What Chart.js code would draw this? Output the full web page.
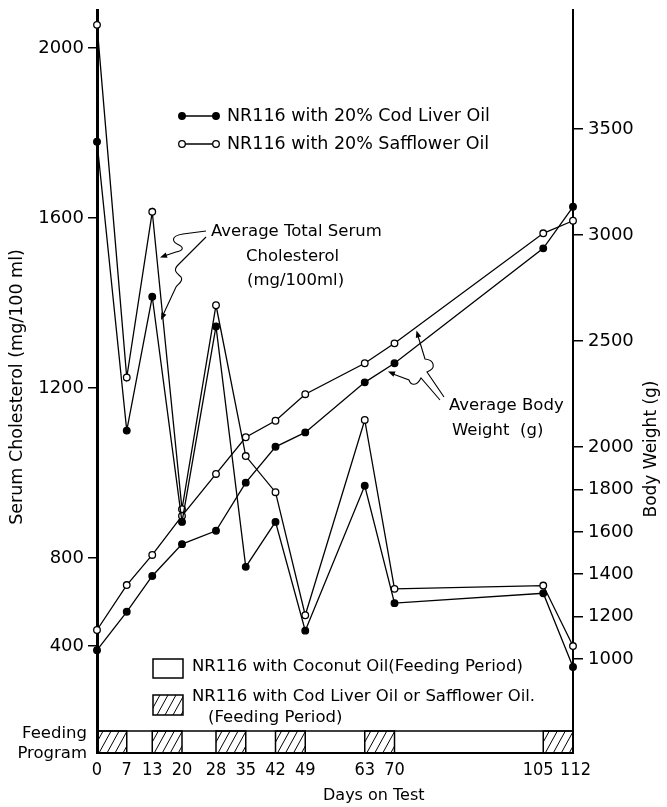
<!DOCTYPE html>
<html>
<head>
<meta charset="utf-8">
<script src="https://cdn.jsdelivr.net/npm/chart.js@4.4.1/dist/chart.umd.min.js"></script>
<style>
  html, body { margin: 0; padding: 0; background: #fff; }
  canvas { display: block; }
</style>
</head>
<body>
<canvas id="chart" width="667" height="807"></canvas>
<script>
// days on test
var days = [0, 7, 13, 20, 28, 35, 42, 49, 63, 70, 105, 112];
// average total serum cholesterol (mg/100ml)
var cholCodLiver = [1780, 1100, 1415, 885, 1345, 760, 885, 470, 970, 595, 640, 305];
var cholSafflower = [2055, 1225, 1615, 915, 1395, 1040, 955, 540, 1125, 660, 675, 400];
// average body weight (g)
var bwCodLiver = [1042, 1223, 1392, 1542, 1605, 1832, 2001, 2069, 2305, 2395, 2937, 3133];
var bwSafflower = [1137, 1349, 1491, 1675, 1873, 2046, 2124, 2249, 2395, 2489, 3008, 3067];
// tick labels
var cholTicks = [400, 800, 1200, 1600, 2000];
var bwTicks = [1000, 1200, 1400, 1600, 1800, 2000, 2500, 3000, 3500];
// feeding periods with cod liver oil / safflower oil (rest: coconut oil)
var hatchedPeriods = [[0, 7], [13, 20], [28, 35], [42, 49], [63, 70], [105, 112]];

var FONT = '"DejaVu Sans", sans-serif';
var FONT_NARROW = '"DejaVu Sans Condensed", "DejaVu Sans", sans-serif';

// 左轴在800以下被压缩（原图如此）
var BREAK = 800, SQUEEZE = 0.518;
class SqueezedScale extends Chart.LinearScale {
  squeeze(v) { return v >= BREAK ? v : BREAK - (BREAK - v) * SQUEEZE; }
  getPixelForValue(v) {
    if (v === null || isNaN(v)) return NaN;
    var a = this.squeeze(this.min), b = this.squeeze(this.max);
    return this.getPixelForDecimal((this.squeeze(v) - a) / (b - a));
  }
  getValueForPixel(p) {
    var a = this.squeeze(this.min), b = this.squeeze(this.max);
    var u = a + this.getDecimalForPixel(p) * (b - a);
    return u >= BREAK ? u : BREAK - (BREAK - u) / SQUEEZE;
  }
}
SqueezedScale.id = 'squeezed';
SqueezedScale.defaults = Chart.LinearScale.defaults;
Chart.register(SqueezedScale);

function pairs(xs, ys) {
  return xs.map(function (x, i) { return { x: x, y: ys[i] }; });
}

function txt(ctx, s, x, y, size, align) {
  ctx.font = size + 'px ' + FONT;
  ctx.textAlign = align || 'left';
  ctx.textBaseline = 'middle';
  ctx.fillText(s, x, y);
}

function arrow(ctx, fx, fy, tx, ty) {
  var a = Math.atan2(ty - fy, tx - fx), L = 7, W = 2.8;
  ctx.beginPath();
  ctx.moveTo(tx, ty);
  ctx.lineTo(tx - L * Math.cos(a) + W * Math.sin(a), ty - L * Math.sin(a) - W * Math.cos(a));
  ctx.lineTo(tx - L * Math.cos(a) - W * Math.sin(a), ty - L * Math.sin(a) + W * Math.cos(a));
  ctx.closePath();
  ctx.fill();
}

function hatch(ctx, x0, y0, w, h) {
  ctx.save();
  ctx.beginPath();
  ctx.rect(x0, y0, w, h);
  ctx.clip();
  ctx.beginPath();
  for (var s = x0 - h; s < x0 + w + h; s += 8) {
    ctx.moveTo(s, y0 + h);
    ctx.lineTo(s + h * 0.55, y0);
  }
  ctx.lineWidth = 1;
  ctx.stroke();
  ctx.restore();
  ctx.lineWidth = 1.5;
  ctx.strokeRect(x0, y0, w, h);
}

function dot(ctx, x, y, filled) {
  ctx.beginPath();
  ctx.arc(x, y, 3.3, 0, Math.PI * 2);
  ctx.fillStyle = filled ? '#000' : '#fff';
  ctx.fill();
  ctx.lineWidth = 1.3;
  ctx.stroke();
  ctx.fillStyle = '#000';
}

var annotations = {
  id: 'annotations',
  afterDraw: function (chart) {
    var ctx = chart.ctx, x = chart.scales.x, area = chart.chartArea;
    ctx.save();
    ctx.strokeStyle = '#000';
    ctx.fillStyle = '#000';

    // feeding program band
    var bandTop = area.bottom - 22, bandH = 22;
    hatchedPeriods.forEach(function (p) {
      var x0 = x.getPixelForValue(p[0]), x1 = x.getPixelForValue(p[1]);
      hatch(ctx, x0, bandTop, x1 - x0, bandH);
    });
    ctx.lineWidth = 1.5;
    ctx.beginPath();
    ctx.moveTo(area.left, bandTop);
    ctx.lineTo(area.right, bandTop);
    ctx.stroke();
    txt(ctx, 'Feeding', 87, 734, 16.5, 'right');
    txt(ctx, 'Program', 87, 754, 16.5, 'right');

    // series key
    ctx.lineWidth = 1.3;
    ctx.beginPath(); ctx.moveTo(182, 116); ctx.lineTo(216, 116); ctx.stroke();
    dot(ctx, 182, 116, true); dot(ctx, 216, 116, true);
    ctx.beginPath(); ctx.moveTo(182, 144); ctx.lineTo(216, 144); ctx.stroke();
    dot(ctx, 182, 144, false); dot(ctx, 216, 144, false);
    txt(ctx, 'NR116 with 20% Cod Liver Oil', 227, 116, 17.5);
    txt(ctx, 'NR116 with 20% Safflower Oil', 227, 144, 17.5);

    // feeding key
    ctx.lineWidth = 1.5;
    ctx.strokeRect(153, 659, 30, 19);
    hatch(ctx, 153, 695, 30, 20);
    txt(ctx, 'NR116 with Coconut Oil(Feeding Period)', 192, 667, 16.5);
    txt(ctx, 'NR116 with Cod Liver Oil or Safflower Oil.', 192, 697, 16.5);
    txt(ctx, '(Feeding Period)', 208, 718, 16.5);

    // cholesterol label and leaders
    txt(ctx, 'Average Total Serum', 211, 232, 16.5);
    txt(ctx, 'Cholesterol', 246, 257, 16.5);
    txt(ctx, '(mg/100ml)', 247, 281, 16.5);
    ctx.lineWidth = 1.1;
    ctx.beginPath();
    ctx.moveTo(206, 231); ctx.lineTo(183, 234);
    ctx.bezierCurveTo(170, 236, 172, 242, 179, 245);
    ctx.bezierCurveTo(185, 248, 182, 251, 176, 252);
    ctx.lineTo(164, 256);
    ctx.stroke();
    arrow(ctx, 176, 252, 160, 257.5);
    ctx.beginPath();
    ctx.moveTo(206, 237); ctx.lineTo(178, 265);
    ctx.bezierCurveTo(172, 271, 178, 274, 181, 277);
    ctx.bezierCurveTo(184, 281, 178, 284, 176, 287);
    ctx.lineTo(163, 315);
    ctx.stroke();
    arrow(ctx, 176, 287, 161, 320);

    // body weight label and leaders
    txt(ctx, 'Average Body', 449, 406, 16.5);
    txt(ctx, 'Weight  (g)', 452, 431, 16.5);
    ctx.beginPath();
    ctx.moveTo(444, 397); ctx.lineTo(427, 372);
    ctx.bezierCurveTo(437, 368, 434, 360, 425, 359);
    ctx.lineTo(418, 336);
    ctx.stroke();
    arrow(ctx, 425, 359, 416.5, 330.5);
    ctx.beginPath();
    ctx.moveTo(440, 400); ctx.lineTo(421, 378);
    ctx.bezierCurveTo(417, 386, 411, 386, 409, 380);
    ctx.lineTo(393, 374);
    ctx.stroke();
    arrow(ctx, 409, 380, 388, 371.5);

    // axis titles
    txt(ctx, 'Days on Test', 323, 796, 16);
    ctx.save();
    ctx.translate(17, 387); ctx.rotate(-Math.PI / 2);
    txt(ctx, 'Serum Cholesterol (mg/100 ml)', 0, 0, 17.5, 'center');
    ctx.restore();
    ctx.save();
    ctx.translate(652, 449); ctx.rotate(-Math.PI / 2);
    txt(ctx, 'Body Weight (g)', 0, 0, 17, 'center');
    ctx.restore();
    ctx.restore();
  }
};

function lineSet(label, values, axis, filled) {
  return {
    label: label,
    data: pairs(days, values),
    yAxisID: axis,
    borderColor: '#000',
    borderWidth: 1.3,
    tension: 0,
    fill: false,
    clip: false,
    pointRadius: 3.3,
    pointBorderWidth: 1.3,
    pointBorderColor: '#000',
    pointBackgroundColor: filled ? '#000' : '#fff'
  };
}

// 105 和 112 的标签在原图中向两侧错开
function dayLabel(v) {
  if (v === 105) return '105  ';
  if (v === 112) return ' 112';
  return String(v);
}

var ctx = document.getElementById('chart').getContext('2d');
var chart = new Chart(ctx, {
  type: 'line',
  data: {
    datasets: [
      lineSet('Cholesterol, 20% Cod Liver Oil', cholCodLiver, 'yChol', true),
      lineSet('Cholesterol, 20% Safflower Oil', cholSafflower, 'yChol', false),
      lineSet('Body weight, 20% Cod Liver Oil', bwCodLiver, 'yBw', true),
      lineSet('Body weight, 20% Safflower Oil', bwSafflower, 'yBw', false)
    ]
  },
  options: {
    responsive: false,
    animation: false,
    layout: { padding: { top: 10, left: 0, right: 0, bottom: 0 } },
    plugins: { legend: { display: false }, tooltip: { enabled: false } },
    scales: {
      x: {
        type: 'linear', min: 0, max: 112,
        afterBuildTicks: function (s) { s.ticks = days.map(function (v) { return { value: v }; }); },
        afterFit: function (s) { s.height = 54; s.paddingLeft = 0; s.paddingRight = 0; },
        grid: { display: false, drawTicks: false },
        border: { display: true, color: '#000', width: 2 },
        ticks: { color: '#000', font: { family: FONT_NARROW, size: 18 }, padding: 7, autoSkip: false, maxRotation: 0,
          callback: dayLabel }
      },
      yChol: {
        type: 'squeezed', position: 'left', min: -86, max: 2090,
        afterBuildTicks: function (s) { s.ticks = cholTicks.map(function (v) { return { value: v }; }); },
        afterFit: function (s) { s.width = 97; s.paddingTop = 0; s.paddingBottom = 0; },
        grid: { drawOnChartArea: false, drawTicks: true, tickLength: 9, color: '#000', lineWidth: 1.5 },
        border: { display: true, color: '#000', width: 3 },
        ticks: { color: '#000', font: { family: FONT, size: 18 }, padding: 4,
          callback: function (v) { return String(v); } }
      },
      yBw: {
        type: 'linear', position: 'right', min: 557, max: 4061,
        afterBuildTicks: function (s) { s.ticks = bwTicks.map(function (v) { return { value: v }; }); },
        afterFit: function (s) { s.width = 94; s.paddingTop = 0; s.paddingBottom = 0; },
        grid: { drawOnChartArea: false, drawTicks: true, tickLength: 10, color: '#000', lineWidth: 1.5 },
        border: { display: true, color: '#000', width: 2 },
        ticks: { color: '#000', font: { family: FONT, size: 18 }, padding: 5,
          callback: function (v) { return String(v); } }
      }
    }
  },
  plugins: [annotations]
});
</script>
</body>
</html>
